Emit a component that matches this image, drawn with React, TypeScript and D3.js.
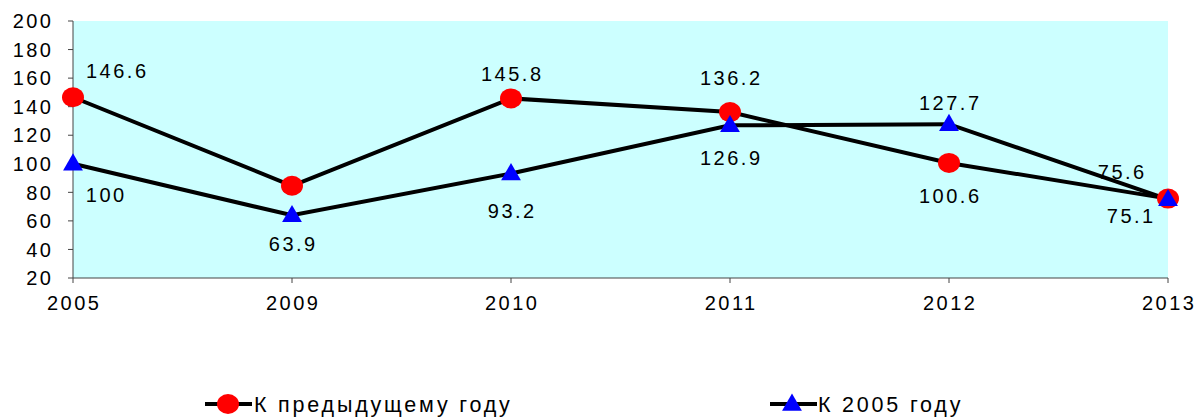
import React from "react";
import * as d3 from "d3";

const categories = ["2005", "2009", "2010", "2011", "2012", "2013"];
const prevYear = [146.6, 84.6, 145.8, 136.2, 100.6, 75.6];
const prevYearLabels = ["146.6", "", "145.8", "136.2", "100.6", "75.6"];
const base2005 = [100, 63.9, 93.2, 126.9, 127.7, 75.1];
const base2005Labels = ["100", "63.9", "93.2", "126.9", "127.7", "75.1"];
const yTicks = [20, 40, 60, 80, 100, 120, 140, 160, 180, 200];
const seriesNames = ["К предыдущему году", "К 2005 году"];

// label offsets [dx, dy] relative to point
const prevOffsets = [[43, -26], [0, 0], [0, -25], [0, -34], [0, 33], [-47, -27]];
const baseOffsets = [[32, 31], [0, 28], [0, 37], [0, 32], [0, -21], [-38, 16]];

export default function App() {
  const W = 1197, H = 417;
  const left = 73, right = 1168, top = 21, bottom = 278;
  const x = d3.scalePoint<string>().domain(categories).range([left, right]);
  const y = d3.scaleLinear().domain([20, 200]).range([bottom, top]);
  const line = d3.line<number>().x((_, i) => x(categories[i])!).y((d) => y(d));
  const font = "'Liberation Sans', Arial, sans-serif";
  const tri = d3.symbol().type(d3.symbolTriangle).size(170)();
  const fs = 20, ls = 2.5;
  const legY = 404;

  return (
    <svg width={W} height={H} style={{ position: "absolute", left: 0, top: 0 }} fontFamily={font}>
      <rect x={left} y={top} width={right - left} height={bottom - top} fill="#ccffff" />
      {/* y axis */}
      <line x1={left} x2={left} y1={top} y2={bottom} stroke="#444" strokeWidth={1} />
      {yTicks.map((t) => (
        <g key={t}>
          <line x1={left - 5} x2={left} y1={y(t)} y2={y(t)} stroke="#444" />
          <text x={51 + ls} y={y(t)} dy="0.36em" textAnchor="end" fontSize={fs} letterSpacing={ls} fill="#000">
            {t}
          </text>
        </g>
      ))}
      {/* x axis */}
      <line x1={left} x2={right} y1={bottom} y2={bottom} stroke="#444" />
      {categories.map((c) => (
        <g key={c}>
          <line x1={x(c)!} x2={x(c)!} y1={bottom} y2={bottom + 5} stroke="#444" />
          <text x={x(c)! + ls / 2} y={303} dy="0.36em" textAnchor="middle" fontSize={fs} letterSpacing={ls} fill="#000">
            {c}
          </text>
        </g>
      ))}
      {/* lines */}
      <path d={line(prevYear)!} fill="none" stroke="#000" strokeWidth={4} />
      <path d={line(base2005)!} fill="none" stroke="#000" strokeWidth={4} />
      {prevYear.map((v, i) => (
        <ellipse key={"p" + i} cx={x(categories[i])!} cy={y(v)} rx={11} ry={10} fill="#ff0000" />
      ))}
      {base2005.map((v, i) => (
        <path key={"b" + i} d={tri!} transform={`translate(${x(categories[i])},${y(v) + 1})`} fill="#0000ff" />
      ))}
      {/* labels */}
      {prevYear.map((v, i) =>
        prevYearLabels[i] ? (
          <text key={"pl" + i} x={x(categories[i])! + prevOffsets[i][0] + ls / 2} y={y(v) + prevOffsets[i][1]} dy="0.36em"
            textAnchor="middle" fontSize={fs} letterSpacing={ls} fill="#000">
            {prevYearLabels[i]}
          </text>
        ) : null
      )}
      {base2005.map((v, i) => (
        <text key={"bl" + i} x={x(categories[i])! + baseOffsets[i][0] + ls / 2} y={y(v) + baseOffsets[i][1]} dy="0.36em"
          textAnchor="middle" fontSize={fs} letterSpacing={ls} fill="#000">
          {base2005Labels[i]}
        </text>
      ))}
      {/* legend */}
      <g>
        <line x1={205} x2={252} y1={legY} y2={legY} stroke="#000" strokeWidth={4} />
        <ellipse cx={228} cy={legY} rx={11} ry={10} fill="#ff0000" />
        <text x={254} y={legY} dy="0.36em" fontSize={21.5} letterSpacing={2.8} fill="#000">{seriesNames[0]}</text>
        <line x1={770} x2={817} y1={legY} y2={legY} stroke="#000" strokeWidth={4} />
        <path d={tri!} transform={`translate(792,${legY + 1})`} fill="#0000ff" />
        <text x={818} y={legY} dy="0.36em" fontSize={21.5} letterSpacing={2.8} fill="#000">{seriesNames[1]}</text>
      </g>
    </svg>
  );
}
